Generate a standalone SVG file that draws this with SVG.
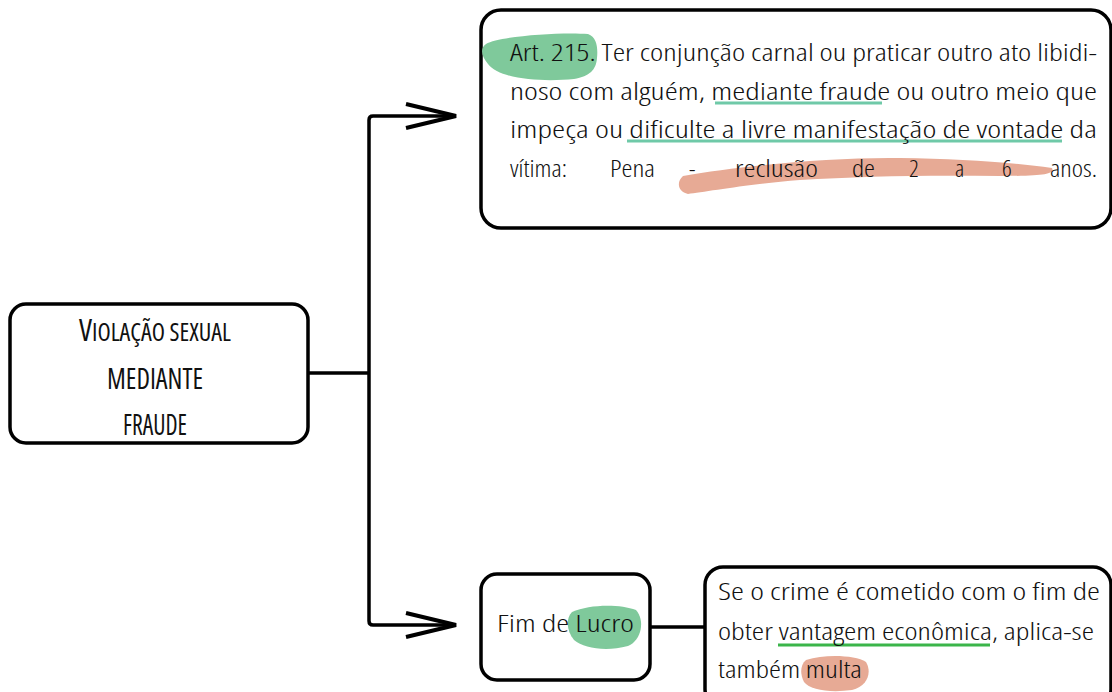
<svg xmlns="http://www.w3.org/2000/svg" width="1112" height="692" viewBox="0 0 1112 692">
<defs>
<style>
.box{fill:#fff;stroke:#000;stroke-width:3.5}
.conn{fill:none;stroke:#000;stroke-width:3.5;stroke-linejoin:round}
.hw{font-family:"Open Sans","DejaVu Sans",sans-serif;font-weight:300;font-stretch:condensed;font-size:24px;fill:#111}
.title{font-family:"Open Sans","DejaVu Sans",sans-serif;font-stretch:condensed;font-weight:400;fill:#111;text-anchor:middle}
.ul-teal{stroke:#6fc9a8;stroke-width:3;fill:none}
.ul-green{stroke:#3bb54a;stroke-width:3;fill:none}
.hl-green{fill:#7fc99b}
.hl-salmon{fill:#e7aa95}
</style>
<marker id="open" markerUnits="userSpaceOnUse" markerWidth="60" markerHeight="30" refX="52" refY="14" orient="auto">
<path d="M2,2 L52,14 L2,26" fill="none" stroke="#000" stroke-width="4" stroke-linejoin="miter"/>
</marker>
</defs>

<g id="connectors">
<path class="conn" d="M308,373 H369"/>
<path class="conn" d="M369,373 V120 Q369,116 373,116 H456" marker-end="url(#open)"/>
<path class="conn" d="M369,373 V621 Q369,625 373,625 H456" marker-end="url(#open)"/>
<path class="conn" d="M650,627 H705"/>
</g>

<g id="node-root">
<rect class="box" x="10" y="304" width="298" height="139" rx="16"/>
<text class="title" x="155" y="341" textLength="152" lengthAdjust="spacingAndGlyphs"><tspan font-size="31">V</tspan><tspan font-size="25">IOLAÇÃO SEXUAL</tspan></text>
<text class="title" x="155" y="389" font-size="29" textLength="96" lengthAdjust="spacingAndGlyphs">MEDIANTE</text>
<text class="title" x="155" y="435" font-size="29" textLength="64" lengthAdjust="spacingAndGlyphs">FRAUDE</text>
</g>

<g id="node-art215">
<rect class="box" x="481" y="10" width="630" height="218" rx="20"/>
<path class="hl-green" d="M486,44 C500,36 560,32 588,34 C597,37 598,48 597,58 C596,70 590,76 574,79 C545,82 500,80 488,64 C481,56 480,48 486,44 Z"/>
<path class="hl-salmon" d="M683,176 C740,166 830,157 900,158 C960,159 1010,162 1052,168 C1055,174 1045,176 1000,176 C930,175 860,176 800,180 C750,184 705,192 688,194 C678,192 676,182 683,176 Z"/>
<path class="ul-teal" d="M715,103 H882"/>
<path class="ul-teal" d="M627,141 H1062"/>
<text class="hw" x="510" y="61" textLength="587" lengthAdjust="spacingAndGlyphs">Art. 215. Ter conjunção carnal ou praticar outro ato libidi-</text>
<text class="hw" x="510" y="100" textLength="587" lengthAdjust="spacingAndGlyphs">noso com alguém, mediante fraude ou outro meio que</text>
<text class="hw" x="510" y="138" textLength="587" lengthAdjust="spacingAndGlyphs">impeça ou dificulte a livre manifestação de vontade da</text>
<text class="hw" y="177"><tspan x="510" textLength="57" lengthAdjust="spacingAndGlyphs">vítima:</tspan><tspan x="610" textLength="45" lengthAdjust="spacingAndGlyphs">Pena</tspan><tspan x="689">-</tspan><tspan x="735" textLength="83" lengthAdjust="spacingAndGlyphs">reclusão</tspan><tspan x="852" textLength="23" lengthAdjust="spacingAndGlyphs">de</tspan><tspan x="909">2</tspan><tspan x="955">a</tspan><tspan x="1002">6</tspan><tspan x="1050" textLength="47" lengthAdjust="spacingAndGlyphs">anos.</tspan></text>
</g>

<g id="node-lucro">
<rect class="box" x="481" y="574" width="169" height="106" rx="16"/>
<path class="hl-green" d="M572,612 C590,604 620,604 636,610 C645,620 642,640 628,646 C605,652 584,648 574,640 C566,630 566,618 572,612 Z"/>
<text class="hw" x="497" y="632" font-size="22" textLength="137" lengthAdjust="spacingAndGlyphs">Fim de Lucro</text>
</g>

<g id="node-multa">
<rect class="box" x="705" y="567" width="406" height="140" rx="18"/>
<path class="ul-green" d="M778,645 H990"/>
<path class="hl-salmon" d="M806,660 C825,654 855,655 866,662 C872,672 868,686 852,690 C830,693 810,690 804,682 C800,674 800,665 806,660 Z"/>
<text class="hw" x="718" y="600" textLength="382" lengthAdjust="spacingAndGlyphs">Se o crime é cometido com o fim de</text>
<text class="hw" x="718" y="640" textLength="376" lengthAdjust="spacingAndGlyphs">obter vantagem econômica, aplica-se</text>
<text class="hw" x="718" y="678" textLength="144" lengthAdjust="spacingAndGlyphs">também multa</text>
</g>
</svg>
